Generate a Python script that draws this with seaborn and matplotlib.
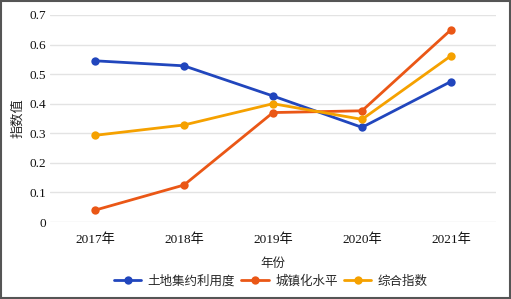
import pandas as pd
import matplotlib.pyplot as plt
import seaborn as sns
from matplotlib.patches import Rectangle

years = ["2017年", "2018年", "2019年", "2020年", "2021年"]
seriesNames = ["土地集约利用度", "城镇化水平", "综合指数"]
landUse = [0.545, 0.528, 0.426, 0.320, 0.475]
urbanization = [0.040, 0.125, 0.370, 0.376, 0.650]
composite = [0.293, 0.328, 0.400, 0.347, 0.562]
yTicks = [0, 0.1, 0.2, 0.3, 0.4, 0.5, 0.6, 0.7]
yTickLabels = ["0", "0.1", "0.2", "0.3", "0.4", "0.5", "0.6", "0.7"]

colors = ["#2146bd", "#ea5716", "#f5a100"]


def buildFrame() -> pd.DataFrame:
    rows = []
    for name, vals in zip(seriesNames, [landUse, urbanization, composite]):
        for yr, v in zip(years, vals):
            rows.append({"year": yr, "value": v, "series": name})
    return pd.DataFrame(rows)


def drawChart() -> None:
    sns.set_style("white")
    plt.rcParams["font.family"] = ["Liberation Serif", "Noto Sans CJK SC", "DejaVu Sans"]

    df = buildFrame()
    fig = plt.figure(figsize=(5.11, 2.99), dpi=100)
    ax = fig.add_axes([0.0988, 0.2575, 0.8709, 0.6925])

    sns.lineplot(
        data=df, x="year", y="value", hue="series", hue_order=seriesNames,
        palette=colors, marker="o", markersize=6, markeredgewidth=0,
        linewidth=2.0, sort=False, ax=ax,
    )

    ax.set_xlim(-0.5, len(years) - 0.5)
    ax.set_ylim(0, 0.7)
    ax.set_yticks(yTicks)
    ax.set_yticklabels(yTickLabels)
    ax.yaxis.grid(True, color="#e3e3e3", linewidth=1.0)
    ax.set_axisbelow(True)
    for sp in ax.spines.values():
        sp.set_visible(False)
    ax.tick_params(axis="both", length=0, labelsize=9.5, colors="#111111")
    ax.tick_params(axis="x", pad=8)
    ax.tick_params(axis="y", pad=3)

    ax.set_xlabel("年份", fontsize=9)
    ax.set_ylabel("指数值", fontsize=9.5)
    ax.xaxis.set_label_coords(0.5, -0.175)
    ax.yaxis.set_label_coords(-0.058, 0.5)

    handles, labels = ax.get_legend_handles_labels()
    ax.legend_.remove()
    fig.legend(
        handles, labels, loc="center", bbox_to_anchor=(0.53, 0.058), ncol=3,
        frameon=False, fontsize=9, handlelength=2.2, handletextpad=0.5,
        columnspacing=0.5,
    )

    fig.patches.append(Rectangle((0.002, 0.003), 0.996, 0.994, transform=fig.transFigure,
                                 fill=False, edgecolor="#555555", linewidth=1.5))

    fig.savefig("out.png", dpi=100)
    plt.close(fig)


if __name__ == "__main__":
    drawChart()
